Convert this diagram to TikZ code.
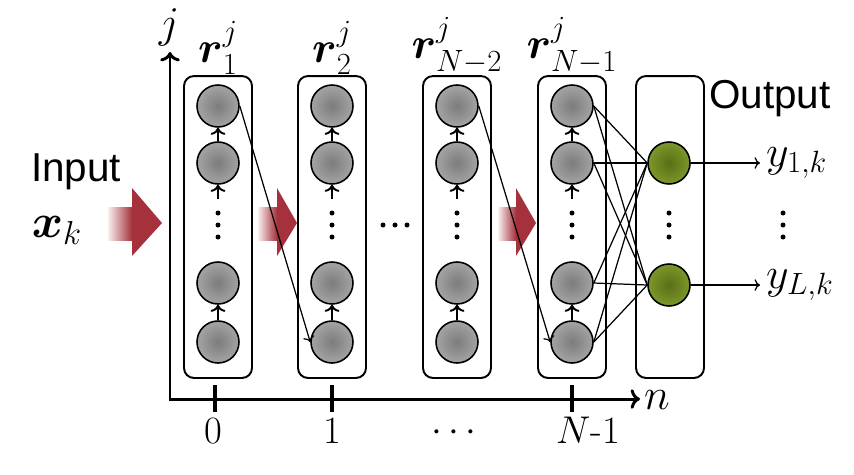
\documentclass[tikz,border=0pt]{standalone}
\usepackage{fix-cm}
\usepackage{amsmath}
\usepackage{fontspec}
\newfontfamily\arialfont{Liberation Sans}
\usetikzlibrary{arrows.meta,positioning}
\definecolor{cellgray} {HTML}{7C7C7C}
\definecolor{cellrim}  {HTML}{A4A4A4}
\definecolor{leafgreen}{HTML}{5A6E16}
\definecolor{leafrim}  {HTML}{7C982A}
\definecolor{flowred}  {HTML}{A5313C}

\begin{document}
\begin{tikzpicture}[x=0.02cm, y=-0.02cm,
      layer/.style={
        draw, line width=1.1pt, rounded corners=0.2cm,
        minimum width=1.36cm, minimum height=6.04cm, inner sep=0
      },
      cell/.style={circle, draw, line width=0.9pt, minimum size=0.84cm, inner sep=0,
        inner color=cellgray, outer color=cellrim},
      outcell/.style={cell, inner color=leafgreen, outer color=leafrim},
      up/.style={->, line width=1.1pt},
      arrow/.style={->, line width=0.7pt},
      link/.style={line width=0.7pt},
      axis/.style={line width=1.7pt},
      tick/.style={line width=2.3pt},
      big/.style={font=\fontsize{25}{29}\selectfont},
      ticklbl/.style={font=\fontsize{22}{26}\selectfont},
      sans/.style={font=\arialfont\fontsize{23}{26}\selectfont}
    ]
      \useasboundingbox (0,0) rectangle (854,474);

      % red flow arrows
      \foreach \bx/\hx/\tx in {108/132/162, 258/277/297, 498/516/536} {
        \shade[left color=flowred!8, right color=flowred] (\bx,207) rectangle (\hx,240);
        \fill[flowred] (\hx,188) -- (\tx,223) -- (\hx,256) -- cycle;
      }

      % axes
      \coordinate (jtip) at (170,52);
      \coordinate (ntip) at (640,399);
      \draw[axis, {To}-{To}] (jtip) |- (ntip);
      \node[big] (jlbl) at (169,27) {$j$};
      \node[big] (nlbl) at (657,400) {$n$};
      \foreach \x/\lx/\t in {215/213/0, 332/332/1, 572/588/{$N$-1}} {
        \draw[tick] (\x,385) -- (\x,412);
        \node[ticklbl, anchor=base] (t\x) at (\lx,443) {\t};
      }
      \node[ticklbl] (tdots) at (457,433) {$\cdots$};

      % reservoir columns
      \foreach \x/\c in {218/a, 332/b, 457/c, 572/d} {
        \node[layer] (\c) at (\x,227) {};
        \foreach \y/\r in {106/1, 163/2, 283/3, 342/4}
          \node[cell] (\c\r) at (\x,\y) {};
        \foreach \y in {213,225,237}
          \fill (\x,\y) circle (0.05cm);
        \coordinate (\c0) at (\x,199);
        \draw[up] (\c2) -- (\c1);
        \draw[up] (\c0) -- (\c2);
        \draw[up] (\c4) -- (\c3);
      }
      \node[big, above=-3pt of a] (ra) {$\boldsymbol{r}^j_1$};
      \node[big, above=-3pt of b] (rb) {$\boldsymbol{r}^j_2$};
      \node[big, above=-3pt of c] (rc) {$\boldsymbol{r}^j_{N-2}$};
      \node[big, above=-3pt of d] (rd) {$\boldsymbol{r}^j_{N-1}$};
      \foreach \x in {383,395,407}
        \fill (\x,225) circle (0.05cm);

      \draw[arrow] (a1.east) -- (b4.west);
      \draw[arrow] (c1.east) -- (d4.west);

      % output layer
      \node[layer] (out) at (670,227) {};
      \node[outcell] (o1) at (669,163) {};
      \node[outcell] (o2) at (669,285) {};
      \foreach \y in {213,225,237} {
        \fill (669,\y) circle (0.05cm);
        \fill (783,\y) circle (0.05cm);
      }
      \foreach \s in {1,...,4}
        \foreach \t in {1,2}
          \draw[link] (d\s.east) -- (o\t.west);

      \node[big, anchor=west] (y1) at (760,163) {$y_{1,k}$};
      \node[big, anchor=west] (yL) at (760,285) {$y_{L,k}$};
      \draw[arrow] (o1) -- (y1);
      \draw[arrow] (o2) -- (yL);

      \node[sans, anchor=base] (outlbl) at (770,108) {Output};
      \node[sans, anchor=base] (inlbl) at (76,181) {Input};
      \node[font=\fontsize{27}{31}\selectfont, anchor=base] (xk) at (57,237) {$\boldsymbol{x}_k$};
    \end{tikzpicture}
\end{document}
